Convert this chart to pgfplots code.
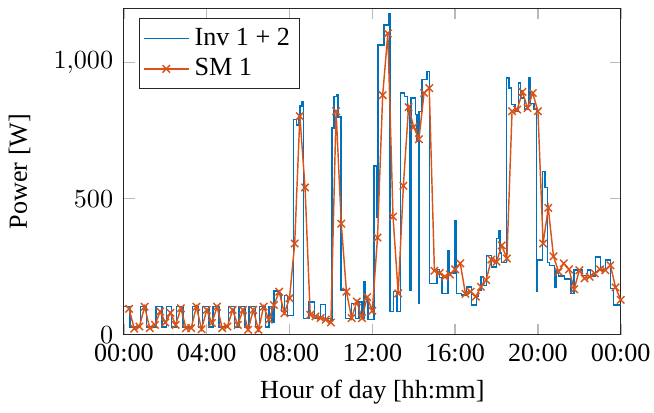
\documentclass[border={0pt 0pt -2pt 2.8pt}]{standalone}
\usepackage{fontspec}
\setmainfont{Liberation Serif}
\usepackage{pgfplots}
\usepackage{pgfplotstable}
\pgfplotsset{compat=1.18}
\definecolor{mblue}{rgb}{0,0.447,0.741}
\definecolor{morange}{rgb}{0.85,0.325,0.098}

\pgfplotstableread{
h W
0 103
0.3 28
0.8 103
1.1 28
1.55 103
1.85 28
2.05 103
2.3 28
2.55 103
2.85 28
3.3 103
3.6 28
3.8 103
4.1 28
4.3 103
4.6 28
5.05 103
5.35 28
5.55 103
5.85 28
6.05 103
6.35 28
6.55 103
6.85 28
7.0 103
7.15 45
7.25 160
7.5 150
7.6 85
7.75 145
7.9 70
8.18 790
8.35 770
8.45 800
8.5 840
8.6 855
8.68 60
8.95 120
9.2 60
9.5 110
9.75 60
10.0 50
10.05 760
10.15 875
10.3 880
10.35 800
10.49 165
10.7 60
11.0 115
11.2 60
11.35 120
11.5 60
11.6 195
11.65 130
11.8 55
12.09 620
12.2 432
12.28 1065
12.57 1138
12.78 1180
12.85 85
13.01 158
13.2 85
13.37 888
13.55 875
13.69 821
13.82 164
13.86 870
14.08 810
14.15 712
14.22 116
14.26 821
14.4 937
14.65 967
14.77 189
15.12 240
15.25 210
15.36 152
15.65 310
15.7 226
16.0 420
16.06 152
16.3 146
16.56 176
16.8 109
17.04 140
17.12 164
17.25 212
17.36 180
17.52 292
17.76 249
18.0 353
18.1 383
18.16 300
18.24 265
18.48 943
18.6 906
18.72 846
18.9 821
19.05 924
19.15 870
19.35 830
19.55 943
19.62 850
19.8 830
19.93 160
19.98 274
20.23 600
20.35 540
20.45 265
20.55 255
20.79 176
20.87 235
21.0 215
21.27 205
21.59 152
21.75 237
22.15 218
22.39 237
22.55 215
22.79 286
23.03 237
23.27 274
23.51 170
23.66 109
24.0 109
}\inv

\pgfplotstableread{
h W
0.25 95
0.5 22
0.75 30
1.0 103
1.25 24
1.5 36
1.75 85
2.0 45
2.25 80
2.5 36
2.75 97
3.0 24
3.25 24
3.5 103
3.75 20
4.0 91
4.25 43
4.5 103
4.75 24
5.0 30
5.25 91
5.5 36
5.75 91
6.0 18
6.25 91
6.5 18
6.75 103
7.0 55
7.25 109
7.5 158
7.75 79
8.0 134
8.25 335
8.5 803
8.75 541
9.0 73
9.25 67
9.5 61
9.75 55
10.0 45
10.25 821
10.5 408
10.75 158
11.0 61
11.25 122
11.5 61
11.75 138
12.0 88
12.25 357
12.5 880
12.75 1107
13.0 434
13.25 152
13.5 547
13.75 836
14.0 763
14.25 718
14.5 888
14.75 906
15.0 235
15.25 227
15.5 213
15.75 221
16.0 240
16.25 262
16.5 150
16.75 158
17.0 140
17.25 176
17.5 201
17.75 276
18.0 268
18.25 328
18.5 280
18.75 821
19.0 827
19.25 892
19.5 833
19.75 888
20.0 821
20.25 335
20.5 466
20.75 288
21.0 231
21.25 262
21.5 240
21.75 167
22.0 237
22.25 207
22.5 213
22.75 225
23.0 240
23.25 237
23.5 255
23.75 174
24.0 128
}\sm

\begin{document}
\begin{tikzpicture}
\begin{axis}[
  scale only axis,
  width=190pt, height=124.9pt,
  xmin=0, xmax=24, ymin=0, ymax=1200,
  xtick={0,4,8,12,16,20,24},
  xticklabels={00:00,04:00,08:00,12:00,16:00,20:00,00:00},
  ytick={0,500,1000},
  tick align=inside,
  major tick style={gray!55, line width=0.6pt},
  axis line style={black!85},
  yticklabel style={xshift=-0.6pt},
  xlabel={Hour of day [hh:mm]},
  ylabel={Power [W]},
  ylabel shift=2pt,
  legend style={at={(0.03,0.969)}, anchor=north west, legend cell align=left,
    draw=black!85, font=\normalsize, inner sep=1.5pt, row sep=-0.5pt},
]
\addplot[const plot mark left, color=mblue, line width=0.55pt, mark=none] table[x=h,y=W]{\inv};
\addlegendentry{Inv 1 + 2}
\addplot[color=morange, line width=0.55pt, mark=x, mark size=2pt, mark options={solid}] table[x=h,y=W]{\sm};
\addlegendentry{SM 1}
\end{axis}
\end{tikzpicture}
\end{document}
